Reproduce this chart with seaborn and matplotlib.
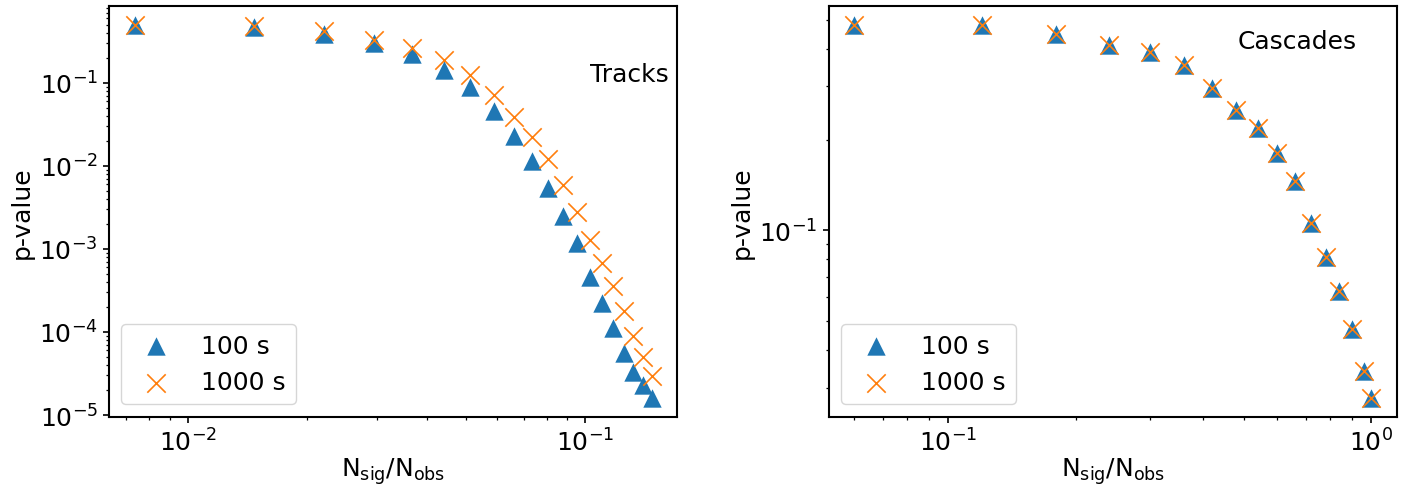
import matplotlib
matplotlib.use("Agg")
import matplotlib.pyplot as plt
import pandas as pd
import seaborn as sns

# Tracks (left panel)
tracks_frac = [0.00735, 0.0147, 0.02205, 0.0294, 0.03675, 0.0441, 0.05145, 0.0588, 0.06615, 0.0735,
               0.08085, 0.0882, 0.09555, 0.1029, 0.11025, 0.1176, 0.12495, 0.1323, 0.13965, 0.147]
tracks_p100 = [0.50, 0.467, 0.388, 0.302, 0.219, 0.144, 0.0883, 0.0453, 0.0226, 0.0113,
               0.0054, 0.00246, 0.00117, 0.000465, 0.000222, 0.000111, 5.55e-5, 3.33e-5, 2.30e-5, 1.59e-5]
tracks_p1000 = [0.50, 0.48, 0.417, 0.331, 0.263, 0.190, 0.123, 0.0706, 0.0387, 0.0220,
                0.0120, 0.00580, 0.00275, 0.00129, 0.000675, 0.000353, 0.000180, 9.06e-5, 5.05e-5, 2.98e-5]

# Cascades (right panel)
casc_frac = [0.06, 0.12, 0.18, 0.24, 0.30, 0.36, 0.42, 0.48, 0.54, 0.60,
             0.66, 0.72, 0.78, 0.84, 0.90, 0.96, 1.0]
casc_p100 = [0.481, 0.481, 0.449, 0.412, 0.390, 0.353, 0.297, 0.251, 0.218, 0.180,
             0.146, 0.1058, 0.0814, 0.0628, 0.0471, 0.0342, 0.0277]
casc_p1000 = [0.481, 0.481, 0.449, 0.412, 0.390, 0.353, 0.297, 0.251, 0.218, 0.180,
              0.146, 0.1058, 0.0814, 0.0628, 0.0471, 0.0342, 0.0277]

sns.set_style("ticks")
plt.rcParams['font.family'] = ['DejaVu Sans']
plt.rcParams['mathtext.default'] = 'regular'
plt.rcParams.update({
    'font.size': 18,
    'text.color': 'black',
    'axes.labelcolor': 'black',
    'xtick.color': 'black',
    'ytick.color': 'black',
    'xtick.major.size': 4.5, 'ytick.major.size': 4.5,
    'xtick.minor.size': 2.5, 'ytick.minor.size': 2.5,
    'xtick.major.width': 1.2, 'ytick.major.width': 1.2,
    'xtick.minor.width': 0.9, 'ytick.minor.width': 0.9,
})

fig, axes = plt.subplots(1, 2, figsize=(14.08, 4.89), dpi=100)
plt.subplots_adjust(left=0.0774, right=0.9922, top=0.9857, bottom=0.1452, wspace=0.266)

panels = [
    (axes[0], tracks_frac, tracks_p100, tracks_p1000, "Tracks", (0.985, 0.835)),
    (axes[1], casc_frac, casc_p100, casc_p1000, "Cascades", (0.929, 0.916)),
]

for ax, frac, p100, p1000, name, pos in panels:
    df = pd.DataFrame({'frac': frac, 'p100': p100, 'p1000': p1000})
    sns.scatterplot(ax=ax, data=df, x='frac', y='p100', marker='^', s=175,
                    color='#1f77b4', linewidth=0, label='100 s')
    sns.scatterplot(ax=ax, data=df, x='frac', y='p1000', marker='x', s=175,
                    color='#ff7f0e', linewidth=1.2, label='1000 s')
    ax.set_xscale('log')
    ax.set_yscale('log')
    ax.set_xlabel(r'$N_{sig}/N_{obs}$', fontsize=18, labelpad=0)
    ax.set_ylabel('p-value', fontsize=18)
    ax.tick_params(which='both', labelsize=18)
    for sp in ax.spines.values():
        sp.set_color('black')
        sp.set_linewidth(1.5)
    ax.text(pos[0], pos[1], name, transform=ax.transAxes, ha='right', va='center', fontsize=18)
    ax.legend(loc='lower left', fontsize=18, frameon=True)

fig.savefig('out.png', dpi=100)
